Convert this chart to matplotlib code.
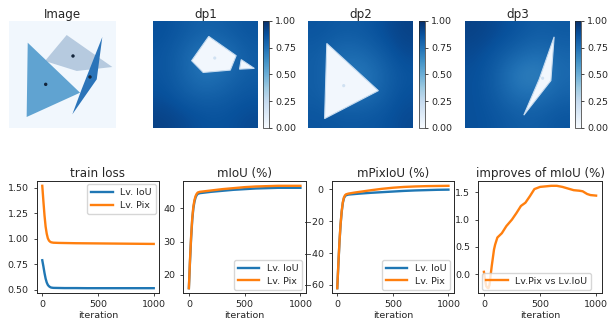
import numpy as np
import matplotlib
matplotlib.use('Agg')
import matplotlib.pyplot as plt
from matplotlib.patches import Polygon, Circle

# ---- top row: image panel and the three predicted maps (coords in 0..100) ----
img_bg = [[0.03]]
img_polys = [
    [(53.9, 13.1), (96.6, 43.0), (63.3, 46.7), (33.6, 37.4)],   # light quad
    [(17.5, 20.3), (66.4, 67.0), (16.5, 89.7)],                 # triangle
    [(87.2, 15.0), (82.0, 54.5), (59.2, 87.2), (67.9, 63.8)],   # sliver
]
img_colors = ['#b6cadf', '#60a3d1', '#2b74b9']
img_dots = [(59.8, 32.7), (34.3, 59.2), (75.7, 52.3)]

dp_titles = ['dp1', 'dp2', 'dp3']
dp1_bg = [[0.88, 0.84, 0.81, 0.83, 0.86],
          [0.86, 0.80, 0.72, 0.75, 0.83],
          [0.86, 0.80, 0.73, 0.78, 0.83],
          [0.88, 0.83, 0.81, 0.83, 0.86],
          [0.93, 0.90, 0.87, 0.87, 0.90]]
dp2_bg = [[0.86, 0.84, 0.84, 0.88, 0.93],
          [0.83, 0.77, 0.78, 0.83, 0.90],
          [0.83, 0.75, 0.71, 0.79, 0.86],
          [0.83, 0.77, 0.76, 0.81, 0.88],
          [0.86, 0.85, 0.85, 0.86, 0.90]]
dp3_bg = [[0.93, 0.90, 0.86, 0.83, 0.84],
          [0.90, 0.85, 0.80, 0.76, 0.80],
          [0.88, 0.82, 0.70, 0.68, 0.78],
          [0.88, 0.83, 0.76, 0.76, 0.81],
          [0.88, 0.86, 0.83, 0.83, 0.86]]
dp1_polys = [[(53.1, 14.4), (79.2, 32.4), (73.6, 45.9), (47.8, 48.1), (36.8, 37.1)],
             [(84.0, 36.1), (96.5, 44.3), (82.4, 45.0)]]
dp2_polys = [[(17.9, 21.0), (67.0, 65.1), (15.8, 91.2)]]
dp3_polys = [[(84.9, 14.8), (81.8, 55.7), (56.0, 88.0), (70.8, 54.1)]]
dp_dots = [(58.8, 34.6), (34.0, 60.4), (73.9, 53.5)]
cbar_ticks = [0.0, 0.25, 0.5, 0.75, 1.0]

# ---- bottom row: training curves ----
iters = [0, 10, 20, 30, 40, 50, 60, 70, 80, 100, 150, 200, 300, 400, 500, 600, 700, 800, 900, 1000]
loss_iou = [0.79, 0.73, 0.665, 0.61, 0.572, 0.548, 0.535, 0.527, 0.522, 0.519, 0.518, 0.517,
            0.517, 0.516, 0.516, 0.516, 0.516, 0.516, 0.516, 0.516]
loss_pix = [1.52, 1.37, 1.23, 1.12, 1.05, 1.005, 0.983, 0.972, 0.966, 0.962, 0.96, 0.959,
            0.957, 0.956, 0.955, 0.954, 0.953, 0.952, 0.951, 0.95]
miou_iou = [16, 24, 31, 36.5, 40, 42, 43.3, 44, 44.4, 44.6, 44.8, 45.0, 45.3, 45.6, 45.8,
            46.0, 46.1, 46.2, 46.2, 46.2]
miou_pix = [16, 24.5, 31.5, 37, 40.5, 42.5, 43.7, 44.4, 44.8, 45.0, 45.2, 45.4, 45.8, 46.1,
            46.4, 46.6, 46.7, 46.8, 46.8, 46.8]
mpix_iou = [-62, -47, -33, -22, -14, -8.5, -5.5, -4.2, -3.6, -3.2, -2.9, -2.6, -2.1, -1.7,
            -1.3, -0.9, -0.6, -0.4, -0.2, -0.1]
mpix_pix = [-62, -46.5, -32.5, -21.5, -13.5, -8, -5, -3.6, -3.0, -2.6, -2.0, -1.5, -0.5, 0.4,
            1.1, 1.6, 1.9, 2.1, 2.2, 2.3]
imp_iters = [0, 10, 20, 30, 40, 50, 60, 70, 80, 90, 100, 120, 160, 200, 250, 290, 330, 370,
             410, 450, 500, 550, 600, 650, 700, 750, 800, 850, 880, 920, 950, 1000]
imp_vals = [0.04, -0.1, -0.22, -0.25, -0.26, -0.2, -0.02, 0.15, 0.3, 0.45, 0.54, 0.67, 0.75,
            0.88, 1.0, 1.12, 1.25, 1.31, 1.43, 1.56, 1.60, 1.61, 1.62, 1.62, 1.60, 1.57, 1.54,
            1.53, 1.52, 1.47, 1.45, 1.44]

TXT = '#262626'
FS = 6.8
plt.rcParams.update({
    'font.family': 'DejaVu Sans',
    'font.size': FS,
    'text.color': TXT,
    'axes.labelcolor': TXT,
    'xtick.color': TXT,
    'ytick.color': TXT,
    'axes.edgecolor': TXT,
    'axes.linewidth': 0.7,
    'xtick.major.size': 2.4,
    'ytick.major.size': 2.4,
    'xtick.major.width': 0.6,
    'ytick.major.width': 0.6,
    'xtick.major.pad': 2.2,
    'ytick.major.pad': 3.4,
})

W, H = 611, 326
fig = plt.figure(figsize=(W / 100, H / 100), dpi=100)
cmap = plt.get_cmap('Blues')


def px_axes(x0, y0, x1, y1):
    # pixel box (top-left origin) -> figure axes
    return fig.add_axes([x0 / W, 1 - y1 / H, (x1 - x0) / W, (y1 - y0) / H])


def setup_img(ax, title):
    ax.set_xlim(0, 100)
    ax.set_ylim(100, 0)
    ax.axis('off')
    ax.set_title(title, fontsize=8.6, pad=2.5)


# Image panel
ax = px_axes(9, 21, 116, 128)
ax.imshow(img_bg, cmap=cmap, vmin=0, vmax=1, extent=(0, 100, 100, 0), aspect='auto')
for pts, c in zip(img_polys, img_colors):
    ax.add_patch(Polygon(pts, closed=True, facecolor=c, edgecolor='none'))
for d in img_dots:
    ax.add_patch(Circle(d, 1.6, facecolor='#14263c', edgecolor='none'))
setup_img(ax, 'Image')

# dp panels
dp_bgs = [dp1_bg, dp2_bg, dp3_bg]
dp_polys = [dp1_polys, dp2_polys, dp3_polys]
dp_boxes = [(153, 258, 263, 269), (308, 413, 419, 425), (465, 570, 575, 581)]
for title, bg, polys, dot, (x0, x1, c0, c1) in zip(dp_titles, dp_bgs, dp_polys, dp_dots, dp_boxes):
    ax = px_axes(x0, 21, x1, 128)
    im = ax.imshow(bg, cmap=cmap, vmin=0, vmax=1, extent=(0, 100, 100, 0),
                   aspect='auto', interpolation='bicubic')
    for pts in polys:
        ax.add_patch(Polygon(pts, closed=True, facecolor=cmap(0.03), edgecolor=cmap(0.25),
                             linewidth=0.8))
    ax.add_patch(Circle(dot, 1.5, facecolor=cmap(0.2), edgecolor='none'))
    setup_img(ax, title)
    cax = px_axes(c0, 21, c1, 128)
    cb = fig.colorbar(im, cax=cax, ticks=cbar_ticks)
    cb.outline.set_linewidth(0.5)
    cb.ax.tick_params(labelsize=FS, length=2.4, width=0.6, pad=2)
    cb.ax.set_yticklabels(['%.2f' % t for t in cbar_ticks])

# bottom curves
C0, C1 = '#1f77b4', '#ff7f0e'
lw = 1.7
leg_kw = dict(fontsize=FS, handlelength=2.3, borderpad=0.4, labelspacing=0.4,
              handletextpad=0.8, borderaxespad=0.4, framealpha=0.8, edgecolor='#cccccc',
              fancybox=True)

boxes = [(36.7, 159.3), (183.3, 306), (331.7, 454), (478.3, 601.7)]
axs = [px_axes(x0, 180.7, x1, 293.3) for x0, x1 in boxes]

ax = axs[0]
ax.plot(iters, loss_iou, color=C0, lw=lw, label='Lv. IoU')
ax.plot(iters, loss_pix, color=C1, lw=lw, label='Lv. Pix')
ax.set_yticks([0.5, 0.75, 1.0, 1.25, 1.5])
ax.set_yticklabels(['0.50', '0.75', '1.00', '1.25', '1.50'])
ax.set_title('train loss', fontsize=8.6, pad=3)
ax.legend(loc='upper right', **leg_kw)

ax = axs[1]
ax.plot(iters, miou_iou, color=C0, lw=lw, label='Lv. IoU')
ax.plot(iters, miou_pix, color=C1, lw=lw, label='Lv. Pix')
ax.set_yticks([20, 30, 40])
ax.set_title('mIoU (%)', fontsize=8.6, pad=3)
ax.legend(loc='lower right', **leg_kw)

ax = axs[2]
ax.plot(iters, mpix_iou, color=C0, lw=lw, label='Lv. IoU')
ax.plot(iters, mpix_pix, color=C1, lw=lw, label='Lv. Pix')
ax.set_yticks([-60, -40, -20, 0])
ax.set_title('mPixIoU (%)', fontsize=8.6, pad=3)
ax.legend(loc='lower right', **leg_kw)

ax = axs[3]
ax.plot(imp_iters, imp_vals, color=C1, lw=lw, label='Lv.Pix vs Lv.IoU')
ax.set_yticks([0.0, 0.5, 1.0, 1.5])
ax.set_title('improves of mIoU (%)', fontsize=8.6, pad=3)
ax.legend(loc='lower left', **leg_kw)

for ax in axs:
    ax.set_xticks([0, 500, 1000])
    ax.set_xlabel('iteration', labelpad=2)
    ax.tick_params(labelsize=FS)

fig.savefig('out.png', dpi=100)
